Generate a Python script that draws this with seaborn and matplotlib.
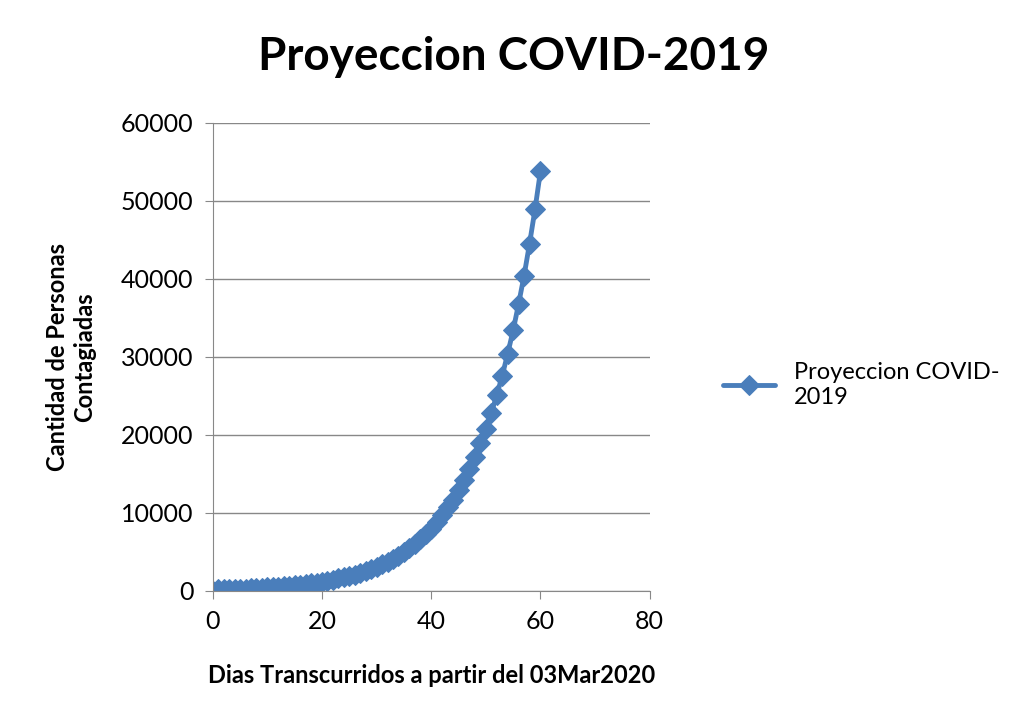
import numpy as np
import pandas as pd
import seaborn as sns
import matplotlib.pyplot as plt

sns.set_style("white")
plt.rcParams['font.family'] = ['Lato', 'DejaVu Sans']
plt.rcParams['text.color'] = 'black'
plt.rcParams['axes.labelcolor'] = 'black'
plt.rcParams['xtick.color'] = 'black'
plt.rcParams['ytick.color'] = 'black'

dias = list(range(0, 61))
contagiados = [0, 190, 210, 230, 260, 280, 310, 340, 380, 420,
               460, 500, 550, 610, 670, 740, 810, 890, 980, 1080,
               1200, 1300, 1450, 1600, 1750, 1900, 2100, 2300, 2550, 2800,
               3100, 3400, 3750, 4100, 4500, 5000, 5500, 6000, 6600, 7300,
               8000, 8800, 9700, 10700, 11700, 12900, 14200, 15600, 17200, 18900,
               20800, 22800, 25100, 27600, 30400, 33400, 36800, 40400, 44500, 48900,
               53800]
serie = "Proyeccion COVID-\n2019"

df = pd.DataFrame({"Dias": dias, "Contagiados": contagiados})

fig = plt.figure(figsize=(10.28, 7.26), dpi=100)
ax = fig.add_axes([0.207, 0.186, 0.425, 0.645])
color = "#4a7ebb"
sns.lineplot(data=df, x="Dias", y="Contagiados", ax=ax, color=color, lw=3.5,
             marker="D", markersize=10, markeredgecolor=color, label=serie)

ax.set_xlim(0, 80)
ax.set_ylim(0, 60000)
ax.set_xticks(range(0, 81, 20))
ax.set_yticks(range(0, 60001, 10000))
ax.tick_params(labelsize=18, pad=8)
ax.yaxis.grid(True, color="#888888", lw=1)
for s in ["top", "right"]:
    ax.spines[s].set_visible(False)
ax.spines["left"].set_color("#888888")
ax.spines["bottom"].set_color("#888888")
ax.tick_params(axis="x", length=6, direction="out", color="#888888", bottom=True)
ax.tick_params(axis="y", length=6, direction="out", color="#888888", left=True)

ax.set_xlabel("Dias Transcurridos a partir del 03Mar2020", fontsize=17, fontweight="bold", labelpad=22)
ax.set_ylabel("Cantidad de Personas\nContagiadas", fontsize=17, fontweight="bold", labelpad=18)
fig.suptitle("Proyeccion COVID-2019", fontsize=33, fontweight="bold", y=0.95, x=0.5)

ax.legend(loc="center left", bbox_to_anchor=(1.12, 0.44), frameon=False, fontsize=17,
          handlelength=2.2, labelcolor="black")
fig.savefig("out.png", dpi=100)
